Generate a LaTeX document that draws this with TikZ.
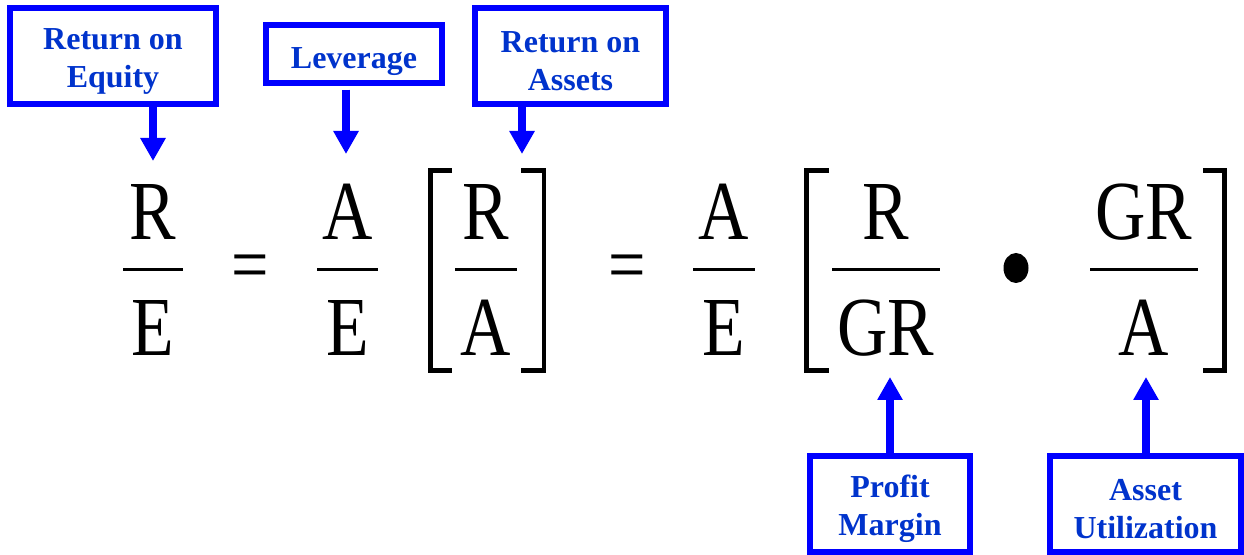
\documentclass[tikz,border=0pt]{standalone}
\usepackage{fontspec}
\setmainfont{Liberation Serif}
\newfontfamily\narrowserif[FakeStretch=0.83]{Liberation Serif}
\usetikzlibrary{arrows.meta}
\definecolor{boxblue}{RGB}{0,0,255}
\definecolor{labelblue}{RGB}{0,51,204}
\begin{document}
\begin{tikzpicture}[x=0.5pt, y=-0.5pt,
  tag/.style={draw=boxblue, line width=3pt, text=labelblue, align=center,
    inner sep=0pt, font=\bfseries\fontsize{16}{19}\selectfont,
    execute at begin node={\rule{0pt}{#1}}},
  tag/.default=34.8pt,
  pointer/.style={draw=boxblue, line width=4pt,
    -{Triangle[width=12pt, length=11.5pt]}},
  letter/.style={anchor=base, inner sep=0pt, font=\narrowserif\fontsize{42}{42}\selectfont},
  op/.style={anchor=base, inner sep=0pt, font=\narrowserif\fontsize{40}{40}\selectfont},
  bar/.style={line width=1.75pt},
  bracket/.style={line width=2.25pt}]
\useasboundingbox (0,0) rectangle (1244,555);

% label boxes
\node[tag, minimum width=103pt, minimum height=48pt] (roe) at (113,56) {Return on\\Equity};
\node[tag=17.6pt, minimum width=88pt, minimum height=28.75pt] (lev) at (354,54) {Leverage};
\node[tag, minimum width=95.5pt, minimum height=48pt] (roa) at (570.5,56) {Return on\\Assets};
\node[tag, minimum width=80pt, minimum height=48pt] (pm) at (890,504) {Profit\\Margin};
\node[tag, minimum width=95.5pt, minimum height=48pt] (au) at (1145.5,504) {Asset\\Utilization};

% R/E = A/E [R/A]
\node[letter] (re-n) at (153,240) {R};
\node[letter] (re-d) at (153,356) {E};
\draw[bar] (123,269.5) -- (183,269.5);
\node[op] (eq1) at (250.5,292) {=};
\node[letter] (ae-n) at (347.5,240) {A};
\node[letter] (ae-d) at (347.5,356) {E};
\draw[bar] (317,269.5) -- (378,269.5);
\draw[bracket] (452,170.5) -- (430.5,170.5) -- (430.5,370.5) -- (452,370.5);
\node[letter] (ra-n) at (486,240) {R};
\node[letter] (ra-d) at (486,356) {A};
\draw[bar] (455,269.5) -- (517,269.5);
\draw[bracket] (521,170.5) -- (544,170.5) -- (544,370.5) -- (521,370.5);

% = A/E [R/GR . GR/A]
\node[op] (eq2) at (627,292) {=};
\node[letter] (ae2-n) at (724,240) {A};
\node[letter] (ae2-d) at (724,356) {E};
\draw[bar] (693,269.5) -- (755,269.5);
\draw[bracket] (829,170.5) -- (806.5,170.5) -- (806.5,370.5) -- (829,370.5);
\node[letter] (rgr-n) at (886,240) {R};
\node[letter] (rgr-d) at (886,356) {GR};
\draw[bar] (832,269.5) -- (940,269.5);
\fill (1016,268) ellipse [x radius=6.25pt, y radius=7.5pt];
\node[letter] (gra-n) at (1144,240) {GR};
\node[letter] (gra-d) at (1144,356) {A};
\draw[bar] (1090,269.5) -- (1198,269.5);
\draw[bracket] (1203,170.5) -- (1224.5,170.5) -- (1224.5,370.5) -- (1203,370.5);

% arrows
\coordinate (roetip) at (153,161);
\coordinate (levtip) at (346,154);
\coordinate (roatip) at (522,154);
\coordinate (pmtip) at (890,377);
\coordinate (autip) at (1146,377);
\draw[pointer] (roetip |- roe.south) -- (roetip);
\draw[pointer] ([yshift=-2pt]levtip |- lev.south) -- (levtip);
\draw[pointer] (roatip |- roa.south) -- (roatip);
\draw[pointer] (pmtip |- pm.north) -- (pmtip);
\draw[pointer] (autip |- au.north) -- (autip);
\end{tikzpicture}
\end{document}
